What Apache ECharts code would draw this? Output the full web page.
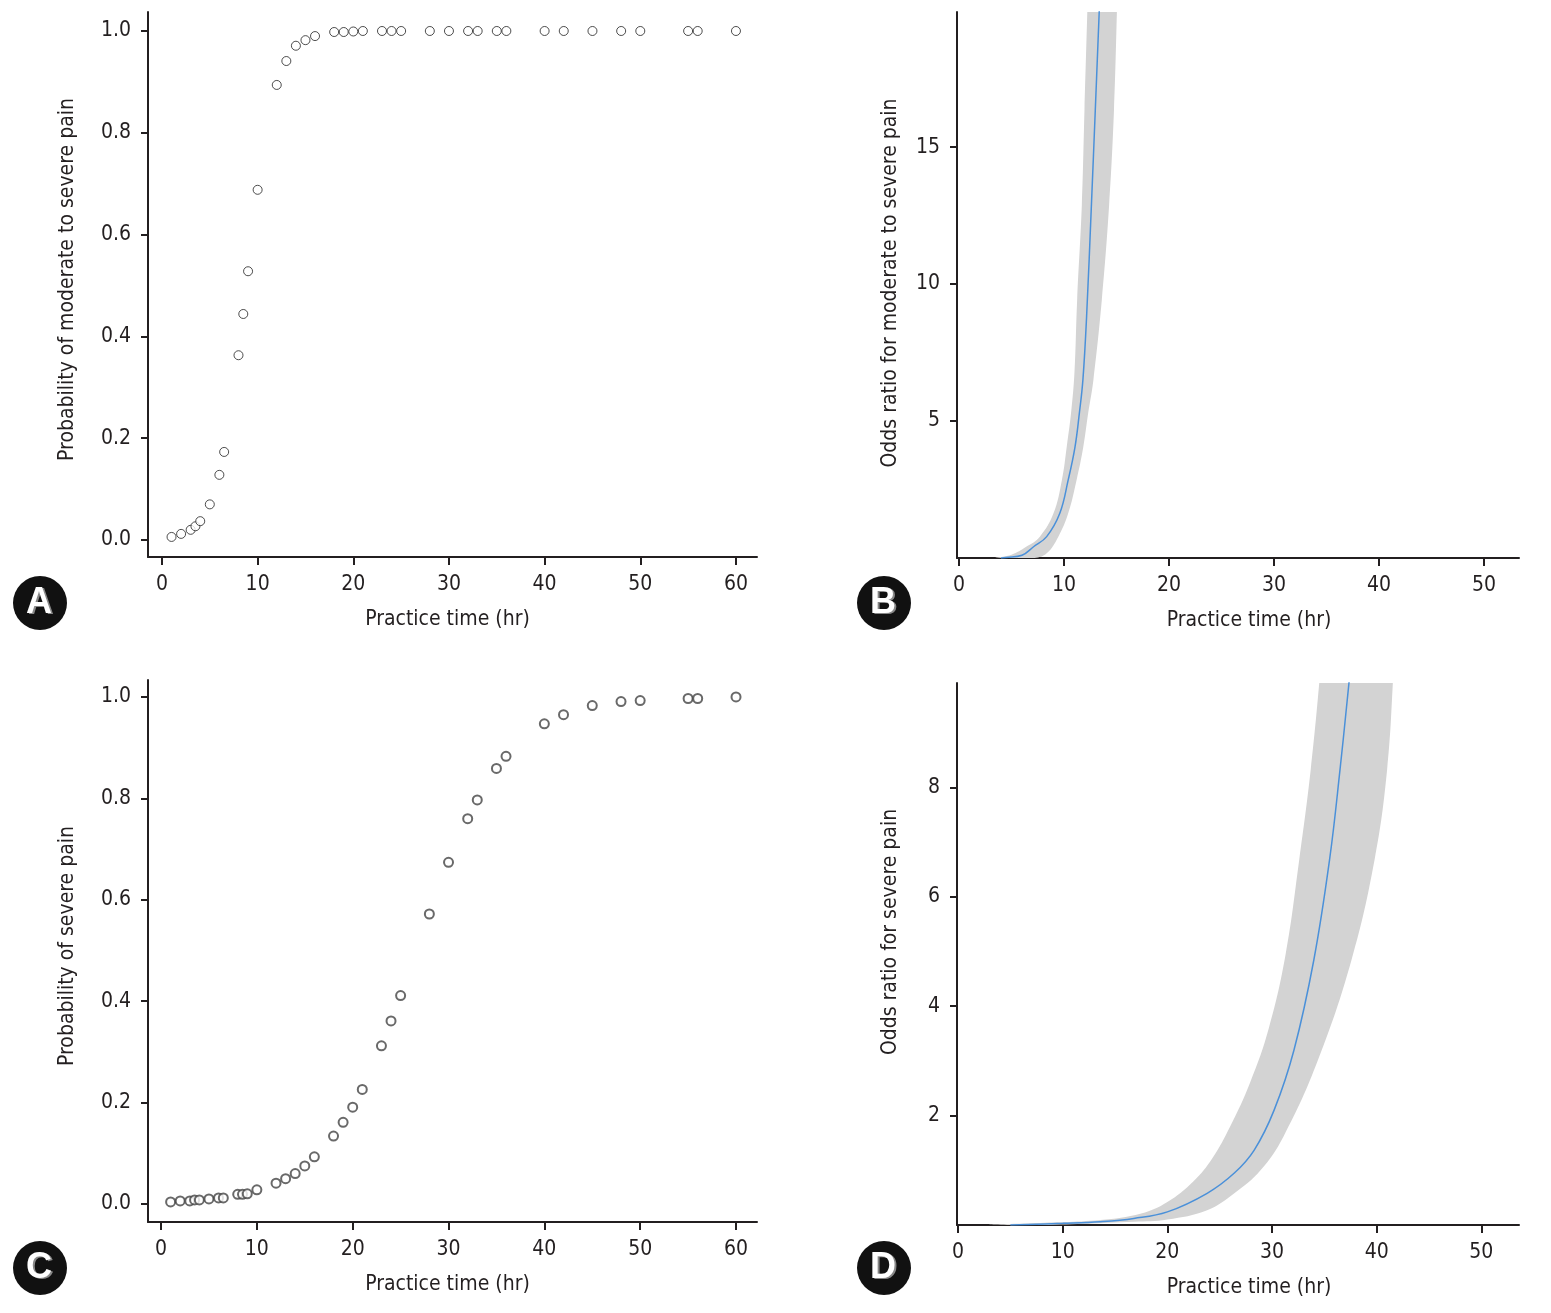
<!DOCTYPE html>
<html>
<head>
<meta charset="utf-8">
<title>Practice time and pain</title>
<script src="https://cdn.jsdelivr.net/npm/echarts@6.0.0/dist/echarts.min.js"></script>
<style>
html, body { margin: 0; padding: 0; background: #fff; }
#container { width: 1551px; height: 1313px; }
</style>
</head>
<body>
<div id="container"></div>
<script>
// practice hours of the observed players (A and C share them)
var hours = [1, 2, 3, 3.5, 4, 5, 6, 6.5, 8, 8.5, 9, 10, 12, 13, 14, 15, 16, 18, 19, 20, 21, 23, 24, 25, 28, 30, 32, 33, 35, 36, 40, 42, 45, 48, 50, 55, 56, 60];
var probModSev = [0.006, 0.012, 0.02, 0.027, 0.037, 0.07, 0.128, 0.173, 0.363, 0.444, 0.528, 0.688, 0.894, 0.941, 0.971, 0.982, 0.99, 0.998, 0.998, 0.999, 1, 1, 1, 1, 1, 1, 1, 1, 1, 1, 1, 1, 1, 1, 1, 1, 1, 1];
var probSev = [0.004, 0.006, 0.006, 0.008, 0.008, 0.01, 0.012, 0.012, 0.019, 0.019, 0.02, 0.028, 0.041, 0.05, 0.06, 0.075, 0.093, 0.134, 0.161, 0.191, 0.226, 0.312, 0.361, 0.411, 0.572, 0.674, 0.76, 0.797, 0.859, 0.883, 0.947, 0.965, 0.983, 0.991, 0.993, 0.997, 0.997, 1.0];

// B: odds ratio for moderate to severe pain
var timeB = [4.0, 4.5, 6.0, 7.1, 8.35, 9.6, 10.4, 11.05, 11.46, 11.8, 12.15, 12.63, 12.98, 13.36];
var orModSev = [0.0, 0.02, 0.1, 0.41, 0.78, 1.63, 2.85, 4.06, 5.28, 6.5, 8.8, 13.07, 16.35, 20.0];
var ciUpperB = [[3.5, 0], [5.0, 0.12], [6.4, 0.41], [7.7, 0.78], [9.0, 1.63], [9.8, 2.85], [10.26, 4.06], [10.7, 5.4], [11.0, 6.8], [11.25, 9.4], [11.7, 12.9], [11.95, 16.35], [12.26, 20.5], [12.5, 24]];
var ciLowerB = [[7.2, 0], [8.35, 0.17], [9.46, 0.78], [10.4, 1.63], [11.2, 2.85], [11.84, 4.06], [12.3, 5.28], [12.8, 6.5], [13.6, 9.42], [14.3, 12.9], [14.76, 16.35], [15.08, 20.5], [15.35, 24]];

// D: odds ratio for severe pain
var timeD = [5, 10, 13.6, 16.8, 20, 23.8, 26.4, 28.3, 30.2, 32.1, 34.0, 35.5, 36.5, 37.4];
var orSev = [0.0, 0.03, 0.06, 0.12, 0.24, 0.58, 0.95, 1.37, 2.1, 3.2, 4.85, 6.68, 8.33, 10.0];
var ciUpperD = [[3, 0], [6.9, 0.03], [13.6, 0.09], [17.5, 0.21], [20, 0.42], [22.5, 0.8], [24.3, 1.22], [26.0, 1.8], [27.9, 2.6], [29.7, 3.6], [31.3, 4.95], [32.6, 6.68], [33.7, 8.33], [34.6, 10.1], [35.4, 12]];
var ciLowerD = [[8, 0], [16.8, 0.06], [20, 0.1], [23.8, 0.27], [26.4, 0.58], [28.9, 1.0], [31.1, 1.62], [34.4, 3.02], [37.6, 4.85], [39.8, 6.68], [41.0, 8.33], [41.6, 10.1], [42.1, 12]];

var ticks60 = [0, 10, 20, 30, 40, 50, 60];
var ticks50 = [0, 10, 20, 30, 40, 50];
var probTicks = [0, 0.2, 0.4, 0.6, 0.8, 1.0];
var orTicksB = [5, 10, 15];
var orTicksD = [2, 4, 6, 8];

var FONT = "'Liberation Sans Narrow', 'DejaVu Sans Condensed', sans-serif";
var INK = '#231f20';

function pairs(xs, ys) {
    var out = [];
    for (var i = 0; i < xs.length; i++) out.push([xs[i], ys[i]]);
    return out;
}

function xAxisFor(idx, min, max, ticks, shift) {
    return {
        type: 'value', gridIndex: idx, min: min, max: max,
        name: 'Practice time (hr)', nameLocation: 'middle', nameGap: 52,
        nameTextStyle: { fontFamily: FONT, fontSize: 21, color: INK, padding: shift },
        axisLine: { show: true, onZero: false, lineStyle: { color: INK, width: 2 } },
        axisTick: { show: true, customValues: ticks, length: 8, lineStyle: { color: INK, width: 2 } },
        axisLabel: { customValues: ticks, margin: 17, fontFamily: FONT, fontSize: 21, color: INK },
        splitLine: { show: false }
    };
}

function yAxisFor(idx, min, max, ticks, name, gap, digits, shift) {
    return {
        type: 'value', gridIndex: idx, min: min, max: max,
        name: name, nameLocation: 'middle', nameGap: gap, nameRotate: 90,
        nameTextStyle: { fontFamily: FONT, fontSize: 21, color: INK, padding: shift },
        axisLine: { show: true, onZero: false, lineStyle: { color: INK, width: 2 } },
        axisTick: { show: true, customValues: ticks, length: 7, lineStyle: { color: INK, width: 2 } },
        axisLabel: {
            customValues: ticks, margin: 17, fontFamily: FONT, fontSize: 21, color: INK,
            formatter: function (v) { return v.toFixed(digits); }
        },
        splitLine: { show: false }
    };
}

function bandSeries(idx, upper, lower) {
    var ring = upper.concat(lower.slice().reverse());
    return {
        type: 'custom', xAxisIndex: idx, yAxisIndex: idx, clip: true, silent: true, z: 1,
        data: ring,
        encode: { x: 0, y: 1 },
        renderItem: function (params, api) {
            if (params.dataIndex !== 0) return null;
            var pts = ring.map(function (p) { return api.coord(p); });
            return { type: 'polygon', shape: { points: pts, smooth: 0.4 }, style: { fill: '#d3d3d3' } };
        }
    };
}

function lineSeries(idx, xs, ys) {
    return {
        type: 'line', xAxisIndex: idx, yAxisIndex: idx, data: pairs(xs, ys),
        showSymbol: false, smooth: 0.4, clip: true, z: 3, silent: true,
        lineStyle: { color: '#4a90d9', width: 1.5 }
    };
}

function dotSeries(idx, ys, edge, w) {
    return {
        type: 'scatter', xAxisIndex: idx, yAxisIndex: idx, data: pairs(hours, ys),
        symbol: 'circle', symbolSize: 9, silent: true,
        itemStyle: { color: '#fff', borderColor: edge, borderWidth: w }
    };
}

function badge(letter, cx, cy) {
    return {
        type: 'group', children: [
            { type: 'circle', shape: { cx: cx, cy: cy, r: 27 }, style: { fill: '#111' } },
            { type: 'text', x: cx + 1, y: cy + 1, style: { text: letter, fill: '#888', font: 'bold 36px "Liberation Sans", sans-serif', align: 'center', verticalAlign: 'middle', textAlign: 'center', textVerticalAlign: 'middle' } },
            { type: 'text', x: cx - 1, y: cy, style: { text: letter, fill: '#fff', font: 'bold 36px "Liberation Sans", sans-serif', align: 'center', verticalAlign: 'middle', textAlign: 'center', textVerticalAlign: 'middle' } }
        ]
    };
}

var dom = document.getElementById('container');
var myChart = echarts.init(dom);
var option = {
    animation: false,
    backgroundColor: '#fff',
    grid: [
        { left: 148, top: 12, width: 609, height: 545, outerBoundsMode: 'none' },
        { left: 957, top: 12, width: 562, height: 546, outerBoundsMode: 'none' },
        { left: 148, top: 680, width: 609, height: 542, outerBoundsMode: 'none' },
        { left: 957, top: 683, width: 562, height: 542, outerBoundsMode: 'none' }
    ],
    xAxis: [
        xAxisFor(0, -1.46, 62.2, ticks60, [0, 10, 0, 0]),
        xAxisFor(1, -0.19, 53.33, ticks50, [0, 0, 0, 22]),
        xAxisFor(2, -1.36, 62.19, ticks60, [0, 10, 0, 0]),
        xAxisFor(3, -0.1, 53.6, ticks50, [0, 0, 0, 22])
    ],
    yAxis: [
        yAxisFor(0, -0.0334, 1.0373, probTicks, 'Probability of moderate to severe pain', 70, 1, [0, 0, 0, 10]),
        yAxisFor(1, 0, 19.93, orTicksB, 'Odds ratio for moderate to severe pain', 56, 0, [0, 0, 0, 4]),
        yAxisFor(2, -0.0355, 1.0335, probTicks, 'Probability of severe pain', 70, 1, [0, 0, 0, 10]),
        yAxisFor(3, 0, 9.91, orTicksD, 'Odds ratio for severe pain', 56, 0, [0, 0, 0, 44])
    ],
    series: [
        dotSeries(0, probModSev, '#222', 1),
        bandSeries(1, ciUpperB, ciLowerB),
        lineSeries(1, timeB, orModSev),
        dotSeries(2, probSev, '#444', 2),
        bandSeries(3, ciUpperD, ciLowerD),
        lineSeries(3, timeD, orSev)
    ],
    graphic: [
        badge('A', 40, 603),
        badge('B', 884, 603),
        badge('C', 40, 1268),
        badge('D', 884, 1268)
    ]
};
myChart.setOption(option);
</script>
</body>
</html>
